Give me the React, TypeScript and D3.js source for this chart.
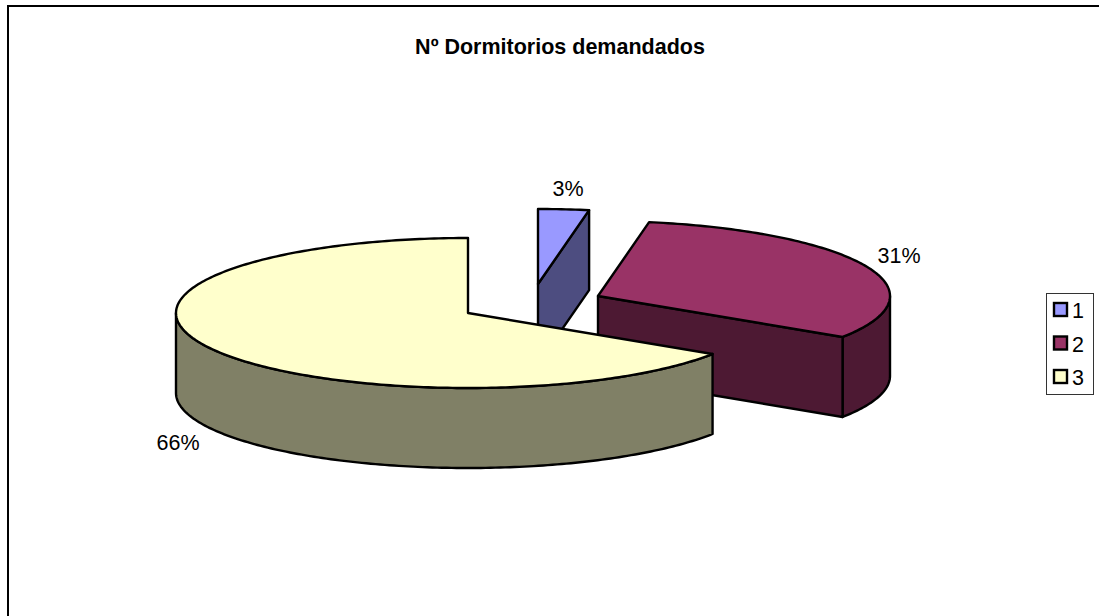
import React from "react";
import * as d3 from "d3";

const categories = ["1", "2", "3"];
const shares = [2.8, 31.4, 65.8];
const topColors = ["#9999ff", "#993366", "#ffffcc"];
const sideColors = ["#4d4d80", "#4d1933", "#808066"];

const W = 1099;
const H = 616;
const TITLE = "Nº Dormitorios demandados";
const FONT_SIZE = 21.5;

// the pie is a flattened ellipse, pulled-out slices have their own apex
const rx = 292;
const ry = 75;
const depth = 80;
const apexes: [number, number][] = [
  [538, 284],
  [598, 296],
  [468, 313],
];
const labelPos: [number, number][] = [
  [568, 196],
  [899, 263],
  [178, 450],
];

const pct = d3.format(".0%");
const line = d3.line();

export default function App() {
  const slices = d3
    .pie<number>()
    .sort(null)
    .value((d) => d)(shares);
  const total = d3.sum(shares);

  const rim = (i: number, a: number, dy = 0): [number, number] => [
    apexes[i][0] + rx * Math.sin(a),
    apexes[i][1] - ry * Math.cos(a) + dy,
  ];
  const arcPoints = (i: number, a0: number, a1: number, dy = 0) => {
    const n = Math.max(2, Math.ceil(Math.abs(a1 - a0) * 60));
    return d3.range(n + 1).map((k) => rim(i, a0 + ((a1 - a0) * k) / n, dy));
  };

  const shapes = slices.map((s, i) => {
    const [ax, ay] = apexes[i];
    const top = [[ax, ay] as [number, number], ...arcPoints(i, s.startAngle, s.endAngle)];

    // outer wall, only the front half of the ellipse shows
    const w0 = Math.max(s.startAngle, Math.PI / 2);
    const w1 = Math.min(s.endAngle, (3 * Math.PI) / 2);
    const wall =
      w1 > w0
        ? [...arcPoints(i, w0, w1), ...arcPoints(i, w1, w0, depth)]
        : null;

    // cut face at the end of the slice, it faces the viewer on the right side
    const corner = rim(i, s.endAngle);
    const cut =
      s.endAngle < Math.PI
        ? [
            [ax, ay],
            corner,
            [corner[0], corner[1] + depth],
            [ax, ay + depth],
          ]
        : null;
    return { top, wall, cut: cut as [number, number][] | null };
  });

  const legendY = d3
    .scalePoint<string>()
    .domain(categories)
    .range([310, 377]);

  return (
    <svg
      width={W}
      height={H}
      style={{ position: "fixed", left: 0, top: 0, background: "#fff" }}
      fontFamily="'Liberation Sans', Arial, sans-serif"
    >
      <path d={`M8,${H}V6H${W}`} fill="none" stroke="#000" strokeWidth={2} />

      <text x={560} y={54} textAnchor="middle" fontSize={FONT_SIZE} fontWeight="bold">
        {TITLE}
      </text>

      {shapes.map((d, i) => (
        <g key={categories[i]} stroke="#000" strokeWidth={2.4} strokeLinejoin="round">
          {d.wall && <path d={line(d.wall) + "Z"} fill={sideColors[i]} />}
          {d.cut && <path d={line(d.cut) + "Z"} fill={sideColors[i]} />}
          <path d={line(d.top) + "Z"} fill={topColors[i]} />
        </g>
      ))}

      {shares.map((v, i) => (
        <text
          key={categories[i]}
          x={labelPos[i][0]}
          y={labelPos[i][1]}
          textAnchor="middle"
          fontSize={FONT_SIZE}
        >
          {pct(v / total)}
        </text>
      ))}

      <rect x={1046.5} y={293.5} width={47} height={101} fill="#fff" stroke="#333" strokeWidth={1} />
      {categories.map((c, i) => (
        <g key={c}>
          <rect
            x={1054}
            y={legendY(c)! - 7}
            width={13}
            height={13}
            fill={topColors[i]}
            stroke="#000"
            strokeWidth={2.4}
          />
          <text x={1072} y={legendY(c)! + 8} fontSize={FONT_SIZE}>
            {c}
          </text>
        </g>
      ))}
    </svg>
  );
}
